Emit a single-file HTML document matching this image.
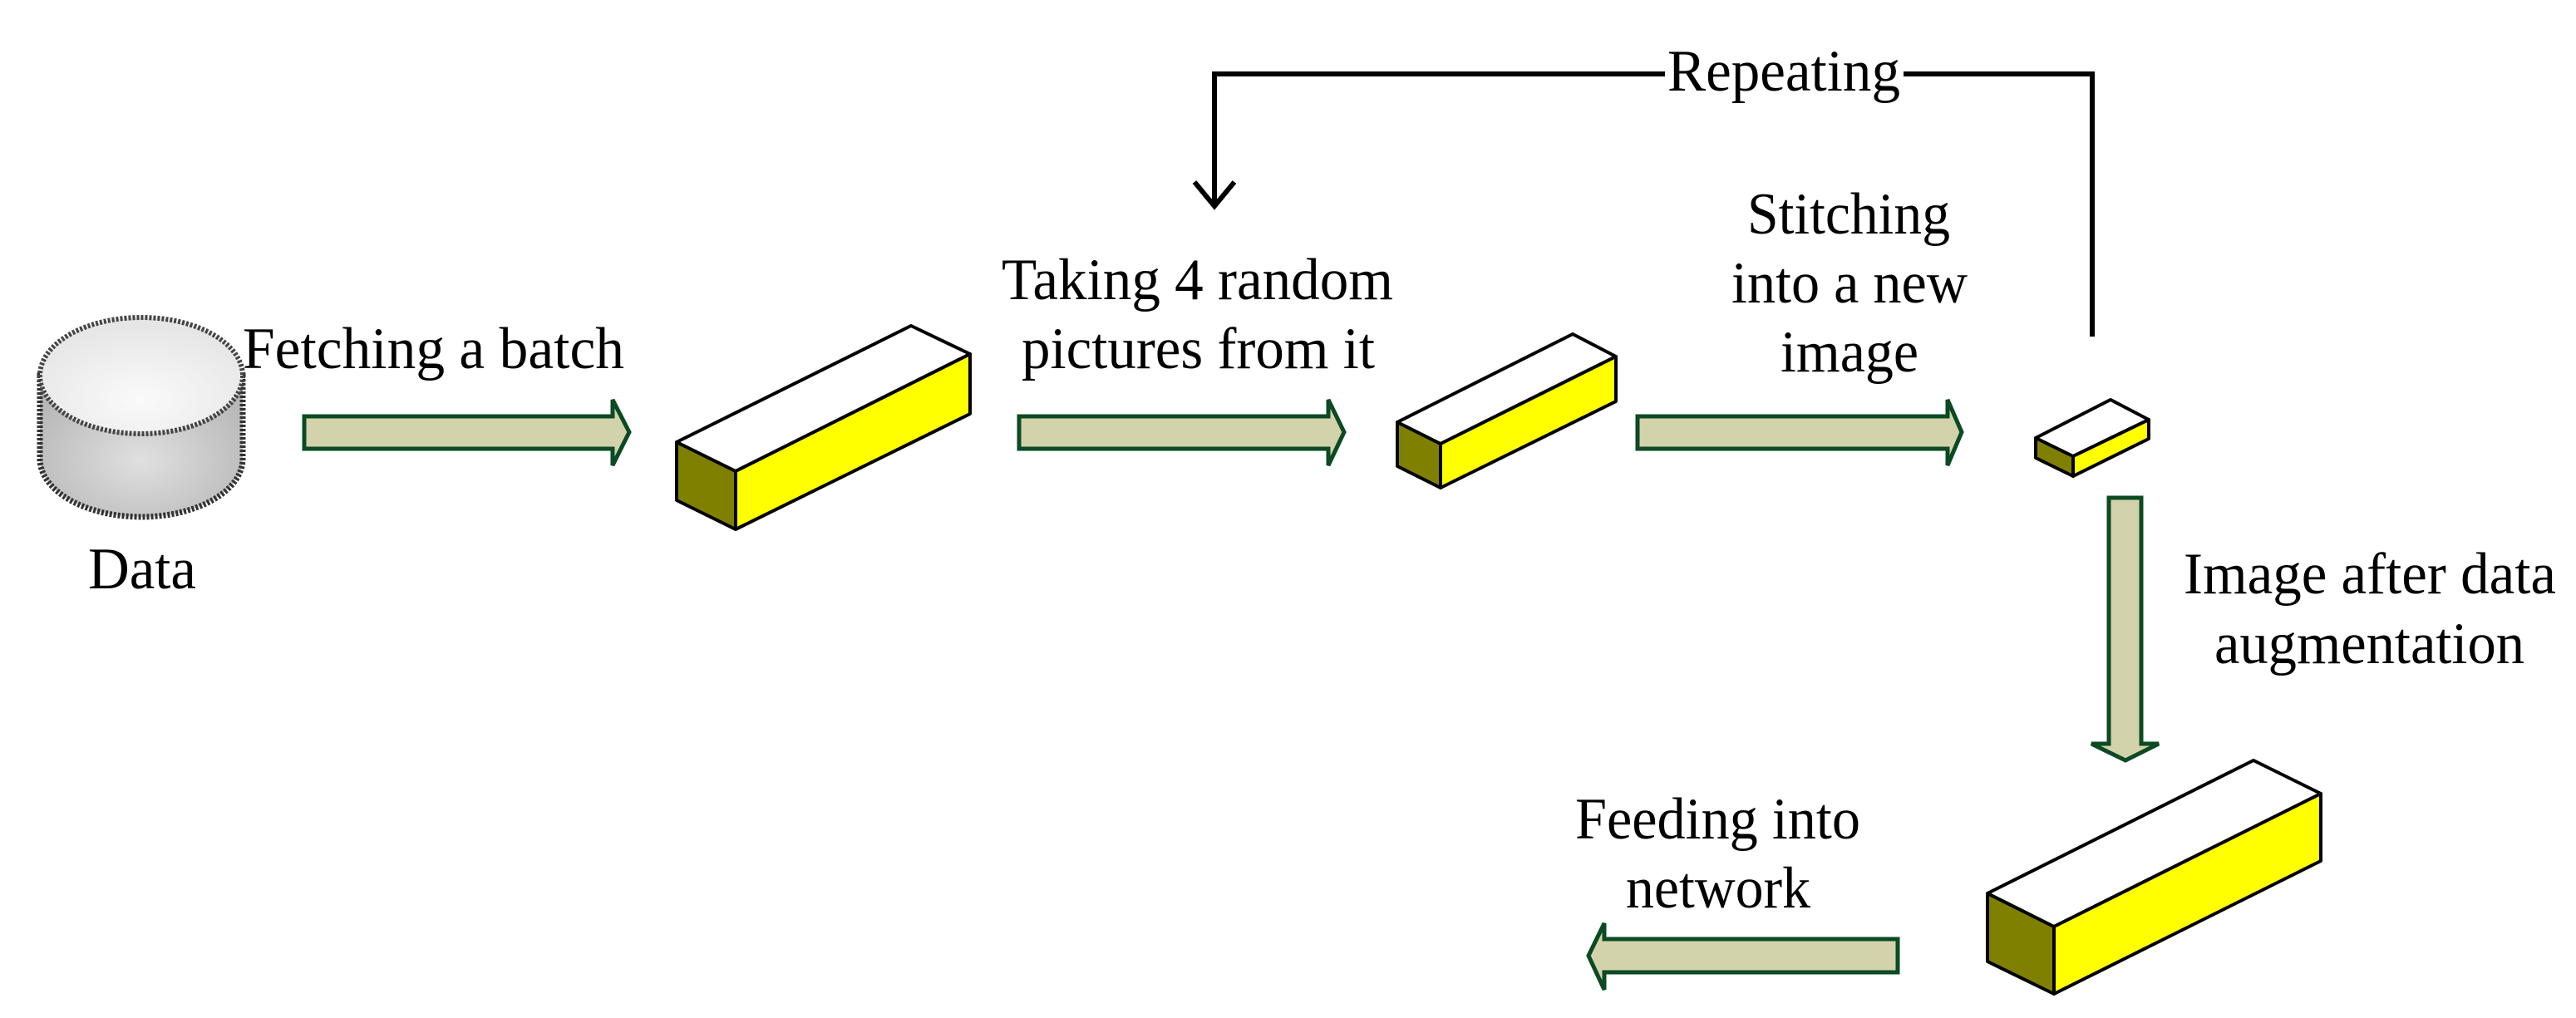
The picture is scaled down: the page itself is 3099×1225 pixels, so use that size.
<!DOCTYPE html>
<html><head><meta charset="utf-8"><style>
html,body{margin:0;padding:0;background:#fff;}
svg{display:block;}
text{font-family:"Liberation Serif",serif;font-size:71px;fill:#000;}
</style></head><body>
<svg width="3099" height="1225" viewBox="0 0 3099 1225" xmlns="http://www.w3.org/2000/svg">
<defs>
<radialGradient id="cg" cx="0.5" cy="0.6" r="0.6">
<stop offset="0" stop-color="#e0e0e0"/><stop offset="1" stop-color="#b8b8b8"/>
</radialGradient>
<radialGradient id="tg" cx="0.5" cy="0.7" r="0.7">
<stop offset="0" stop-color="#fafafa"/><stop offset="1" stop-color="#e4e4e4"/>
</radialGradient>
</defs>
<!-- cylinder -->
<path d="M48,452 L48,552 A122,70 0 0 0 292,552 L292,452 Z" fill="url(#cg)" stroke="#333" stroke-width="7" stroke-dasharray="3,2"/>
<ellipse cx="170" cy="452" rx="122" ry="70" fill="url(#tg)" stroke="#444" stroke-width="6" stroke-dasharray="3,2"/>
<text x="106" y="708" textLength="130" lengthAdjust="spacingAndGlyphs">Data</text>
<text x="292" y="443" textLength="459" lengthAdjust="spacingAndGlyphs">Fetching a batch</text>

<!-- arrows -->
<g fill="#d3d3ab" stroke="#0b4a23" stroke-width="5" stroke-linejoin="miter">
<polygon points="366,501 737,501 737,481 757,520 737,560 737,540 366,540"/>
<polygon points="1226,501 1598,501 1598,481 1617,520 1598,560 1598,540 1226,540"/>
<polygon points="1970,501 2343,501 2343,481 2360,520 2343,560 2343,540 1970,540"/>
<polygon points="2537,599 2576,599 2576,895 2597,895 2557,915 2516,895 2537,895"/>
<polygon points="2283,1130 1930,1130 1930,1111 1911,1150 1930,1191 1930,1170 2283,1170"/>
</g>

<!-- cubes -->
<g stroke="#000" stroke-width="4" stroke-linejoin="round">
<polygon points="814,532 885,567 885,637 814,602" fill="#808000"/>
<polygon points="814,532 1096,392 1167,426 885,567" fill="#fff"/>
<polygon points="885,567 1167,426 1167,498 885,637" fill="#ffff00"/>

<polygon points="1681,508 1733,534 1733,587 1681,561" fill="#808000"/>
<polygon points="1681,508 1892,402 1944,429 1733,534" fill="#fff"/>
<polygon points="1733,534 1944,429 1944,483 1733,587" fill="#ffff00"/>

<polygon points="2449,527 2494,549 2494,573 2449,551" fill="#808000"/>
<polygon points="2449,527 2539,481 2585,505 2494,549" fill="#fff"/>
<polygon points="2494,549 2585,505 2585,528 2494,573" fill="#ffff00"/>

<polygon points="2391,1075 2471,1115 2471,1196 2391,1157" fill="#808000"/>
<polygon points="2391,1075 2711,915 2792,955 2471,1115" fill="#fff"/>
<polygon points="2471,1115 2792,955 2792,1036 2471,1196" fill="#ffff00"/>
</g>

<!-- repeating loop -->
<g stroke="#000" stroke-width="6" fill="none">
<polyline points="2003,89 1461,89 1461,246"/>
<polyline points="2290,89 2517,89 2517,405"/>
<polyline points="1437,219 1461,248 1485,219"/>
</g>
<text x="2006" y="109" textLength="280" lengthAdjust="spacingAndGlyphs">Repeating</text>

<text x="1205" y="360" textLength="471" lengthAdjust="spacingAndGlyphs">Taking 4 random</text>
<text x="1229" y="443" textLength="425" lengthAdjust="spacingAndGlyphs">pictures from it</text>
<text x="2102" y="281" textLength="244" lengthAdjust="spacingAndGlyphs">Stitching</text>
<text x="2083" y="364" textLength="284" lengthAdjust="spacingAndGlyphs">into a new</text>
<text x="2142" y="447" textLength="166" lengthAdjust="spacingAndGlyphs">image</text>
<text x="2627" y="714" textLength="448" lengthAdjust="spacingAndGlyphs">Image after data</text>
<text x="2664" y="798" textLength="373" lengthAdjust="spacingAndGlyphs">augmentation</text>
<text x="1895" y="1009" textLength="343" lengthAdjust="spacingAndGlyphs">Feeding into</text>
<text x="1956" y="1092" textLength="222" lengthAdjust="spacingAndGlyphs">network</text>
</svg>
</body></html>
